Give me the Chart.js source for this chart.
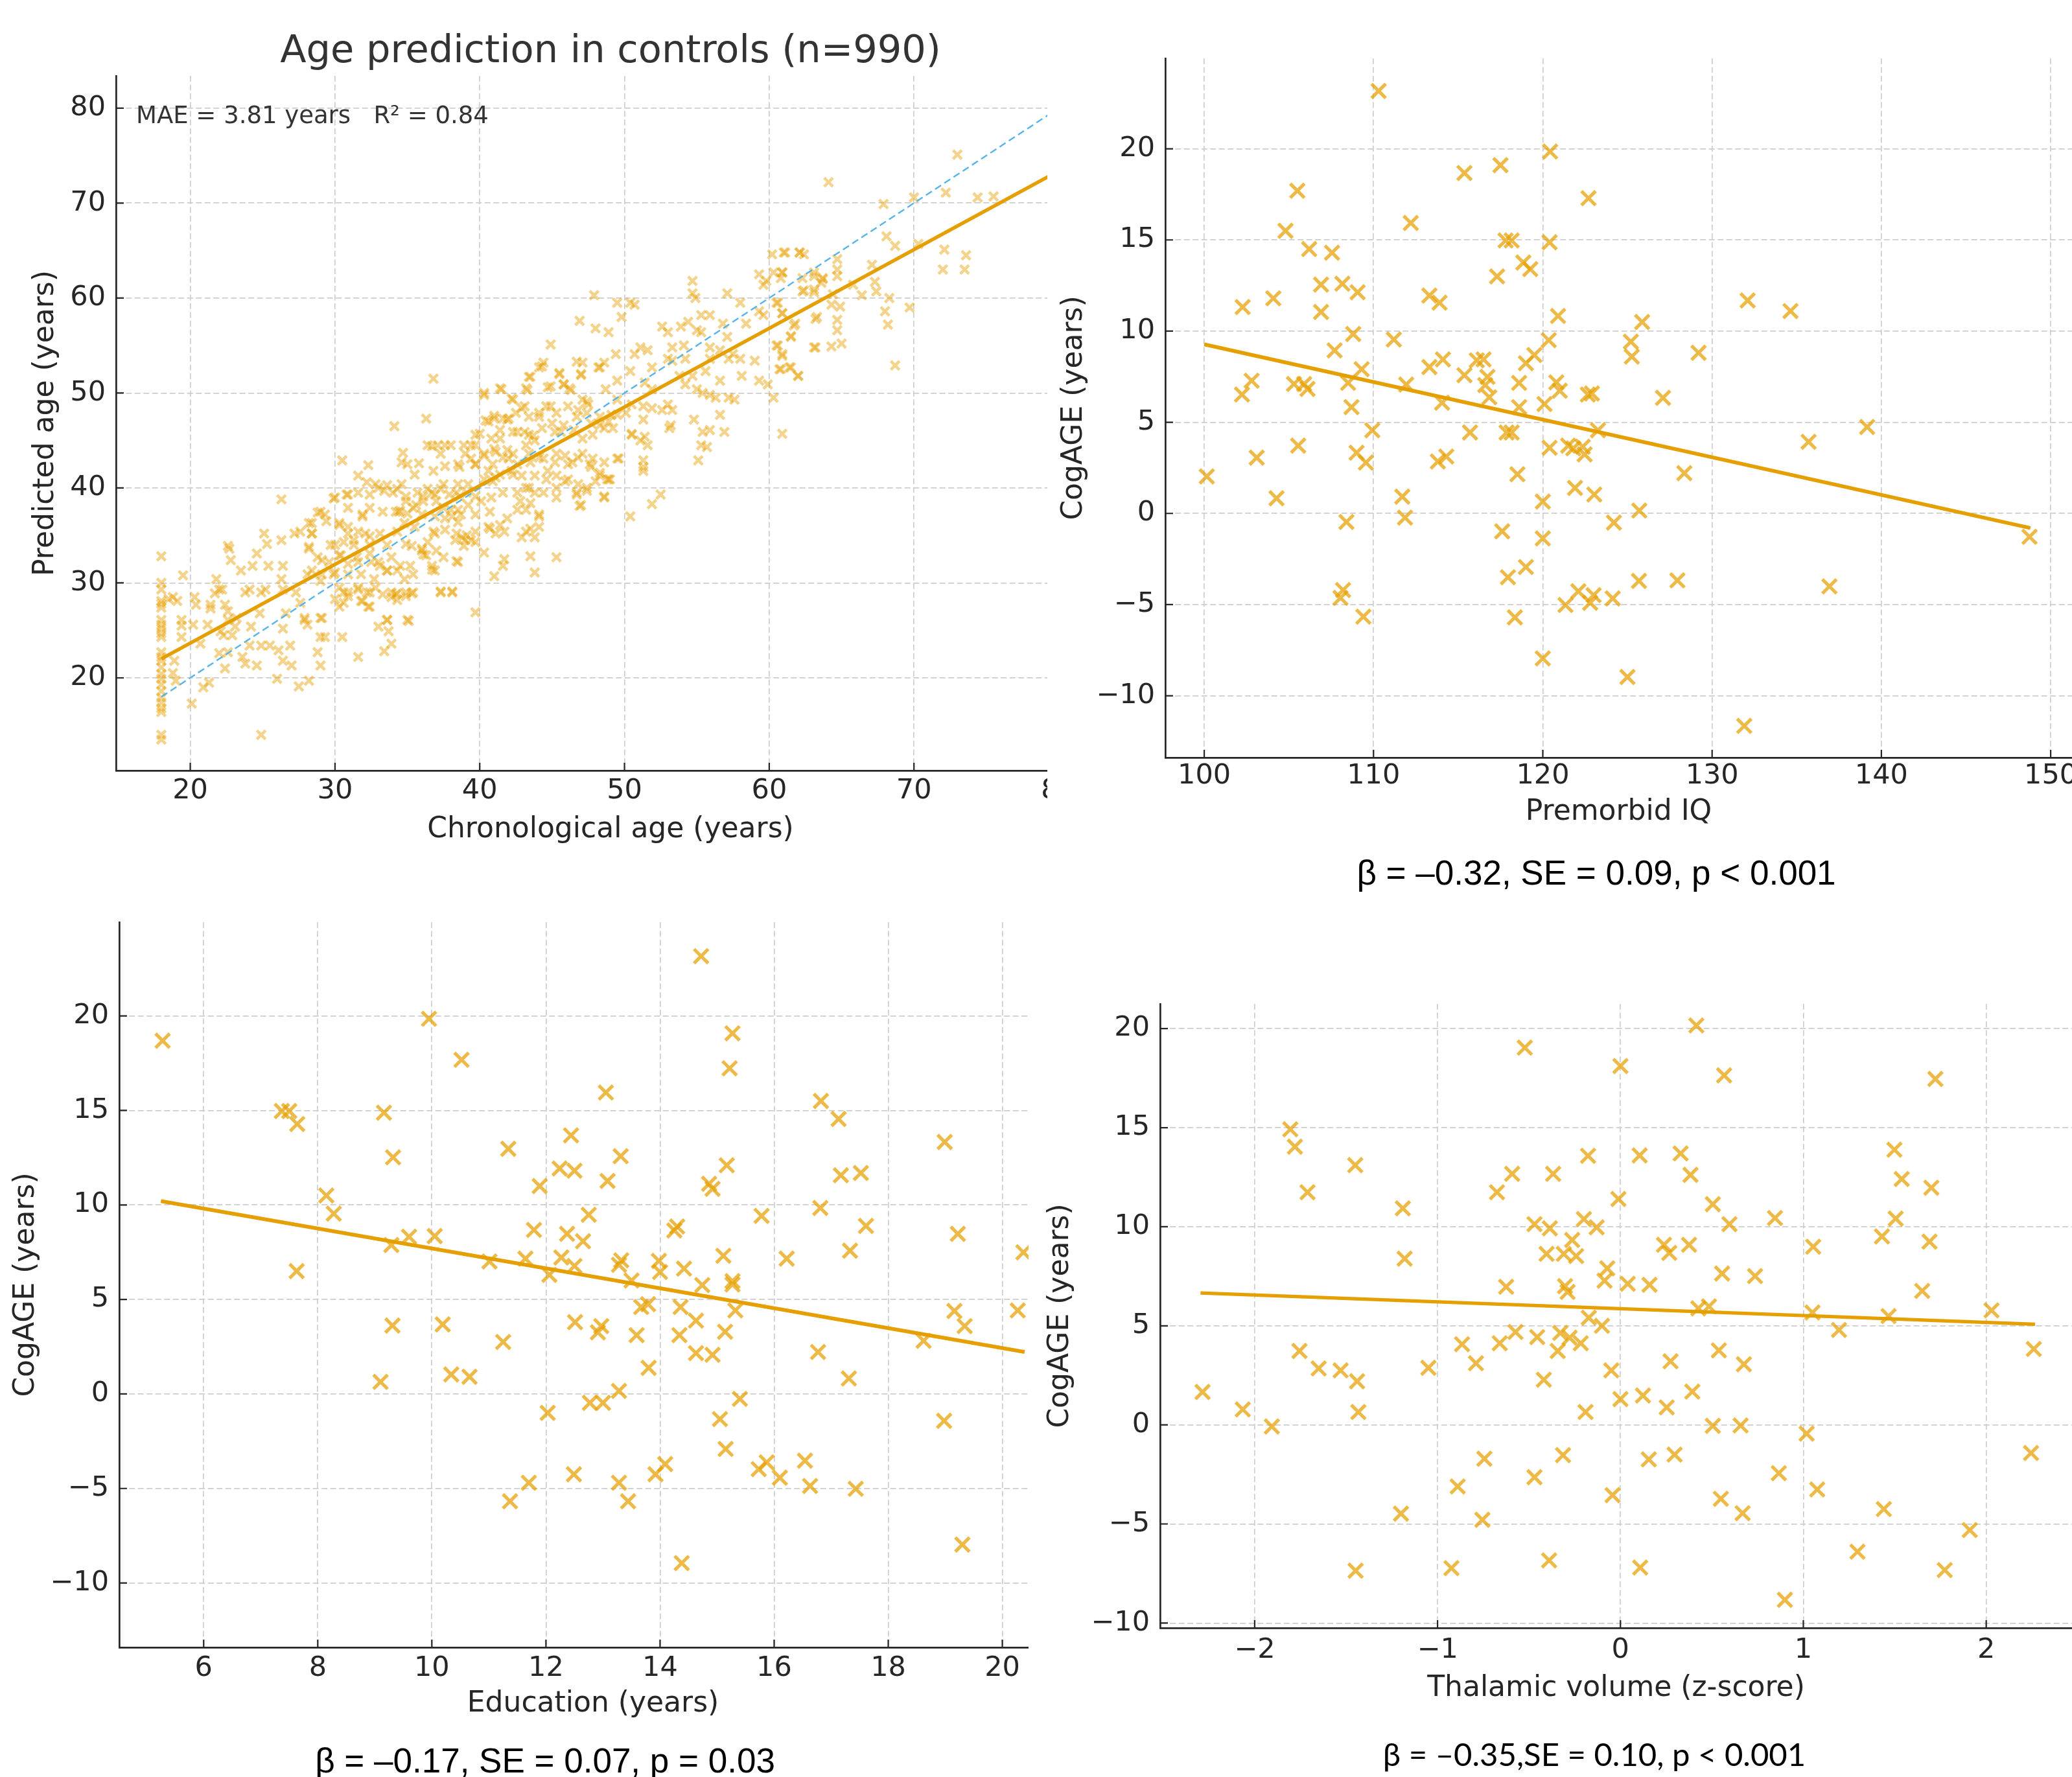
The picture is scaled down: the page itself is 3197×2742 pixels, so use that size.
<!DOCTYPE html>
<html><head><meta charset="utf-8">
<script src="https://cdn.jsdelivr.net/npm/chart.js@4.4.1/dist/chart.umd.min.js"></script>
<style>
html,body{margin:0;padding:0;background:#fff;width:3197px;height:2742px;overflow:hidden;position:relative}
.wrap{position:absolute;overflow:hidden}
canvas{position:absolute;left:0;top:0}
.txt{position:absolute;white-space:nowrap;line-height:1;transform:translate(-50%,-50%)}
</style></head><body>
<div class="wrap" style="left:0;top:0;width:1616px;height:1330px"><canvas id="c1" width="1705" height="1307"></canvas></div>
<div class="wrap" style="left:1600px;top:0;width:1597px;height:1300px"><canvas id="c2" width="1597" height="1280"></canvas></div>
<div class="wrap" style="left:0;top:1380px;width:1587px;height:1300px"><canvas id="c3" width="1646" height="1276"></canvas></div>
<div class="wrap" style="left:1600px;top:1500px;width:1597px;height:1150px"><canvas id="c4" width="1597" height="1132"></canvas></div>
<div class="txt" style="left:942px;top:75px;font-family:'DejaVu Sans';font-size:59px;color:#333">Age prediction in controls (n=990)</div>
<div class="txt" style="left:210px;top:177px;transform:translate(0,-50%);font-family:'DejaVu Sans';font-size:37px;color:#333">MAE = 3.81 years&nbsp;&nbsp;&nbsp;R² = 0.84</div>
<div class="txt" style="left:2463px;top:1346px;font-family:'Liberation Sans';font-size:53px;color:#000">β = –0.32, SE = 0.09, p &lt; 0.001</div>
<div class="txt" style="left:841px;top:2716px;font-family:'Liberation Sans';font-size:53px;color:#000">β = –0.17, SE = 0.07, p = 0.03</div>
<div class="txt" style="left:2460px;top:2706px;font-family:'Lato';font-size:49px;color:#000">β = –0.35,SE = 0.10, p &lt; 0.001</div>
<script>
// ---------------- DATA ----------------
// Panel A: chronological vs predicted age (controls) [chronological, predicted]
const ageControls = [
[18,32.8],[18,30.0],[18,29.3],[18,28.1],[18,27.8],[18,27.4],[18,26.1],[18,25.6],[18,25.2],[18,24.7],[18,24.3],[18,22.7],[18,22.2],[18,21.8],[18,21.1],[18,20.4],[18,19.9],[18,19.3],[18,18.6],[18,17.9],[18,17.4],[18,16.8],[18,16.4],[18,14.0],[18,13.5],
[19.5,30.8],[18.8,28.5],[19.1,28.1],[18.5,28.3],[20.3,28.5],[20.4,27.7],[19.4,26.1],[19.4,25.5],[20.2,25.6],[19.4,24.3],[18.9,21.8],[18.8,20.5],[19.0,19.7],[20.1,17.3],[20.7,23.6],[20.9,19.0],[21.3,19.5],[21.2,25.6],[21.4,27.7],[21.4,27.3],[21.8,30.4],[21.7,28.9],[22.0,29.3],[22.2,29.3],[22.4,27.7],[22.6,27.0],[22.6,33.9],[22.7,33.6],[22.8,32.4],[22.1,24.9],[22.3,24.5],[22.4,21.0],[22.0,22.6],[22.6,22.7],[22.9,24.5],[22.6,26.1],[23.1,25.4],[23.2,26.3],[23.5,31.3],[23.6,22.2],[23.8,21.5],[24.1,23.4],[24.2,25.4],[24.3,31.8],[24.6,33.1],[24.8,26.8],[24.9,14.0],[24.6,21.3],[24.9,23.4],[25.1,35.2],[25.3,34.1],[25.4,31.8],[25.2,29.3],[24.9,29.0],[24.1,29.3],[23.8,29.0],[25.5,23.4],[26.0,19.9],[26.3,38.8],[26.3,34.5],[26.4,31.8],[26.3,30.4],[26.4,29.3],[26.6,26.8],[26.4,25.2],[26.1,22.9],[26.4,21.8],[26.9,23.4],[27.0,21.3],[27.5,19.1],[28.2,19.7],[27.2,35.2],[27.6,35.4],[27.3,29.0],[27.6,27.9],[27.9,26.3],[28.1,25.6],[28.4,36.3],[28.4,35.2],[28.2,33.6],[28.8,37.4],[29.3,37.2],[29.1,32.4],[29.0,30.2],[29.0,26.3],[29.0,24.3],[29.3,24.3],[28.8,22.7],[29.0,21.3],[30.5,42.9],[30.0,39.0],[30.9,39.3],[31.6,41.3],[32.3,42.4],[32.2,40.6],[32.8,40.4],[33.4,39.7],[30.3,36.3],[30.9,35.9],[31.9,37.0],[31.6,35.4],[30.0,34.0],[30.6,34.3],[31.3,34.0],[32.4,34.9],[30.3,32.9],[30.9,32.0],[31.6,32.2],[32.5,32.2],[33.1,31.8],[33.6,31.3],[29.9,30.9],[30.3,29.5],[30.9,29.0],[31.6,29.5],[32.4,29.0],[33.3,28.8],[33.9,29.0],[30.0,28.3],[30.6,27.9],[31.8,28.1],[32.3,27.5],[30.5,24.3],[31.6,22.2],[33.0,25.4],[33.6,26.1],[33.7,24.9],[33.4,22.8],[33.9,23.6],
[34.1,46.5],[36.3,47.3],[36.8,51.5],[34.7,43.7],[34.6,42.7],[35.0,42.5],[35.8,42.6],[35.5,41.4],[36.4,44.5],[36.7,44.4],[37.1,44.5],[37.6,44.5],[38.0,44.5],[37.3,43.6],[36.8,41.8],[37.6,42.3],[38.5,42.5],[39.0,43.6],[39.4,44.5],[39.7,42.5],[40.0,45.7],[34.3,39.9],[34.9,39.1],[34.4,37.5],[35.0,37.3],[35.6,38.2],[36.1,39.1],[36.4,39.9],[36.7,39.5],[37.0,38.6],[37.3,39.9],[37.9,39.3],[38.0,37.7],[38.6,39.1],[39.2,38.2],[39.7,39.1],[37.6,36.8],[38.5,36.4],[38.8,34.8],[39.4,34.5],[39.7,34.3],[38.9,33.9],[38.3,34.5],[36.8,35.4],[36.4,34.3],[36.0,33.4],[35.3,33.9],[34.9,34.1],[36.7,31.4],[36.1,33.0],[37.3,29.1],[38.1,29.1],[38.4,32.3],[35.3,28.9],[34.9,28.6],[34.3,28.9],[34.3,28.2],[35.0,26.1],[39.7,26.9],
[40.3,50.0],[41.4,50.5],[40.6,47.0],[41.0,47.3],[41.6,47.3],[42.0,47.3],[42.3,49.3],[42.3,45.9],[41.4,45.2],[41.0,44.1],[40.3,43.6],[40.9,42.5],[41.6,43.2],[42.3,43.6],[41.4,41.4],[40.9,40.7],[40.3,40.9],[42.3,41.4],[42.9,48.4],[43.2,50.5],[43.4,51.7],[44.1,52.7],[44.4,53.2],[44.9,55.1],[43.1,45.9],[43.2,44.5],[43.7,45.5],[44.1,47.5],[44.6,48.6],[44.9,50.7],[45.5,52.1],[45.8,50.9],[46.2,50.5],[46.7,53.3],[47.1,53.2],[47.0,51.9],[48.2,52.7],[48.6,53.2],[48.0,56.8],[48.9,56.4],[49.4,54.1],[43.5,42.7],[44.1,43.2],[44.7,41.8],[45.3,43.6],[46.1,42.5],[46.8,43.2],[47.6,42.5],[48.3,41.6],[48.8,40.9],[45.2,45.9],[45.8,46.6],[46.8,48.2],[47.4,49.1],[47.7,46.8],[48.3,46.6],[49.1,47.7],[49.5,49.3],[43.2,40.0],[43.8,39.5],[42.8,38.6],[43.2,37.7],[44.1,37.0],[43.5,35.7],[42.9,34.8],[43.8,34.8],[45.3,40.0],[45.9,40.7],[46.7,39.3],[47.0,38.2],[47.4,40.0],[48.0,40.7],[41.7,35.4],[41.1,35.2],[40.7,35.7],[40.3,33.2],[41.7,32.5],[41.6,31.8],[41.0,30.7],[43.5,32.8],[43.8,31.1],[45.3,32.7],[48.6,39.1],
[50.4,59.5],[50.7,59.3],[49.8,58.0],[52.6,57.0],[53.0,56.4],[53.9,57.0],[54.4,57.5],[54.7,61.8],[54.7,60.5],[54.9,60.0],[55.3,58.2],[55.9,58.2],[55.0,56.6],[55.3,56.4],[57.1,60.5],[56.8,57.3],[58.0,59.5],[58.4,57.3],[59.3,58.6],[59.6,58.2],[59.3,62.5],[59.8,61.8],[59.6,61.4],[60.2,64.6],[61.1,64.8],[62.1,64.8],[62.4,64.6],[60.3,62.7],[60.9,62.7],[60.8,62.1],[60.5,59.5],[60.9,58.4],[62.3,62.1],[63.1,62.3],[63.6,61.6],[63.7,62.1],[62.3,60.7],[63.1,60.9],[63.3,58.0],[61.8,57.3],[61.5,55.9],[63.2,54.8],[60.5,55.0],[60.9,53.9],[60.8,52.5],[61.5,52.7],[62.0,51.8],[59.9,50.9],[60.3,49.5],[60.9,45.7],[51.9,52.7],[51.6,54.5],[51.1,54.8],[50.7,54.1],[51.4,51.1],[50.4,52.3],[53.0,53.6],[53.3,53.4],[53.3,54.8],[54.1,55.0],[54.2,53.6],[53.8,51.8],[54.2,50.9],[54.7,51.8],[55.0,50.4],[55.6,52.3],[55.9,53.6],[55.9,54.8],[56.6,54.5],[57.1,55.9],[57.2,53.6],[57.5,54.1],[58.0,53.6],[58.1,51.8],[59.0,53.4],[59.3,51.3],[56.6,51.3],[56.3,49.5],[55.9,49.8],[55.4,50.0],[57.2,49.5],[57.6,49.3],[53.0,48.8],[53.3,48.2],[52.6,48.2],[51.9,48.4],[51.3,48.6],[51.9,50.4],[50.5,48.8],[50.5,45.7],[51.6,44.5],[51.4,45.4],[51.3,42.9],[51.3,41.8],[49.6,43.1],[48.9,40.9],[53.2,46.6],[53.1,46.3],[54.8,47.2],[56.6,47.7],[55.4,45.9],[55.9,46.1],[56.9,45.9],[55.3,44.5],[55.7,44.3],[55.1,42.9],[52.5,39.3],[51.9,38.3],[50.4,37.0],
[64.1,72.2],[64.7,64.1],[64.7,63.0],[64.7,62.3],[64.4,60.4],[64.3,59.3],[64.9,59.1],[64.7,57.7],[64.7,56.6],[64.3,54.9],[65.0,55.2],[65.8,61.4],[66.4,60.3],[67.1,63.5],[67.3,61.7],[67.4,60.7],[67.9,69.9],[68.1,66.5],[68.7,65.5],[68.3,60.0],[68.0,58.6],[68.2,57.2],[68.7,52.9],[69.7,59.0],[70.0,70.6],[70.3,65.7],[72.2,71.1],[73.0,75.1],[72.1,65.1],[72.0,63.0],[73.6,64.5],[73.5,63.0],[74.4,70.6],[75.5,70.7],
[61.0,64.8],[62.1,64.8],[60.9,62.7],[63.1,62.7],[63.7,62.0],[62.4,60.8],[63.1,60.6],[60.6,59.5],[60.9,58.4],[61.7,57.1],[61.5,56.0],[63.2,57.8],[63.1,54.8],[60.6,55.0],[60.9,54.1],[61.4,52.7],[62.0,51.8],[60.7,52.5],[47.9,60.3],[46.9,57.6],[49.5,59.5],
[40.3,49.8],[41.5,50.4],[42.2,49.4],[43.3,50.3],[43.5,51.7],[44.3,52.8],[44.7,50.6],[45.5,52.0],[45.8,50.9],[46.3,50.3],[47.0,52.0],[47.1,49.3],[47.5,48.8],[48.3,52.7],[48.7,50.4],[49.5,51.3],[40.4,47.1],[41.0,47.6],[41.9,47.2],[42.5,47.9],[43.1,48.6],[43.4,47.5],[44.1,47.9],[44.9,48.6],[45.3,47.9],[46.1,48.6],[46.7,47.5],[47.4,47.9],[48.3,47.5],[48.9,47.0],[49.5,47.7],[50.1,47.9],[50.5,45.6],[51.1,45.0],[51.3,47.2],[39.7,45.6],[40.8,45.2],[41.4,46.1],[42.6,45.9],[43.4,45.6],[43.8,45.0],[44.3,46.3],[45.0,46.8],[45.6,45.9],[46.5,46.1],[47.1,45.2],[47.8,45.6],[48.6,46.3],[49.2,46.3],[38.9,44.5],[39.7,44.5],[39.4,43.1],[40.3,43.4],[41.1,43.8],[41.9,44.0],[42.0,43.1],[42.6,42.5],[43.4,43.6],[44.4,43.1],[45.2,42.7],[45.9,43.4],[46.4,42.7],[47.1,43.6],[47.8,43.1],[48.6,42.7],[47.7,42.2],[48.3,41.3],[49.0,40.9],[49.5,43.1],[51.3,42.2],[38.6,42.2],[39.7,42.5],[40.6,41.8],[41.1,41.1],[42.2,41.8],[42.9,41.3],[43.8,41.3],[44.6,40.9],[45.3,41.3],[46.1,40.9],[46.8,40.4],[47.4,39.7],[38.5,40.4],[39.1,39.5],[40.1,38.6],[40.8,39.0],[41.6,39.5],[42.6,39.5],[43.4,40.0],[44.4,39.5],[45.3,39.0],[46.7,39.5],[48.6,39.0],[46.9,38.1],[38.5,37.7],[39.7,37.2],[40.7,37.5],[41.9,36.8],[42.6,37.7],[43.5,38.4],[44.1,37.2],[40.6,35.9],[41.4,36.1],[43.2,35.4],[44.1,35.9],[39.1,35.0],[39.7,35.4],
[29.9,38.9],[30.8,39.3],[31.6,39.5],[32.4,39.3],[33.0,40.0],[33.6,40.3],[34.0,39.5],[34.6,40.4],[34.9,38.6],[35.7,39.5],[36.1,38.6],[36.9,39.3],[37.5,40.4],[38.4,39.5],[39.2,40.4],[29.0,37.5],[29.4,36.5],[30.9,37.9],[31.9,37.2],[32.4,37.9],[33.3,37.5],[34.2,37.5],[34.5,37.6],[35.4,37.9],[36.0,37.2],[36.9,37.0],[37.5,37.9],[38.1,37.0],[38.7,37.2],[28.2,36.3],[28.4,35.2],[29.7,34.0],[30.3,36.1],[30.9,35.2],[31.3,34.5],[32.1,35.2],[32.4,34.0],[33.1,35.2],[33.6,34.0],[34.3,35.4],[34.8,36.3],[35.5,35.9],[36.9,35.2],[37.6,35.6],[38.4,35.2],[39.0,34.5],[28.2,33.8],[28.8,32.7],[29.6,32.2],[30.4,32.9],[31.5,32.7],[32.4,33.1],[33.0,32.2],[33.9,32.7],[34.5,31.8],[35.2,31.8],[36.0,33.6],[36.3,32.9],[37.0,33.4],[37.5,32.7],[36.7,31.8],[38.5,32.2],[36.9,31.3],[28.4,31.3],[29.1,30.9],[30.0,31.1],[30.9,30.9],[31.8,30.9],[32.7,30.4],[33.6,31.3],[34.3,31.3],[34.8,30.4],[35.4,30.9],[30.6,29.0],[30.9,28.6],[31.6,29.3],[32.2,29.0],[32.8,29.5],[34.2,28.8],[34.9,29.0],[35.4,29.0],[33.9,28.5],[30.3,27.5],[31.9,28.1],[32.4,27.5],[37.3,29.0],[38.1,29.0],[29.1,26.3],[33.6,26.1],[35.1,26.0],[28.1,30.9],[27.9,26.1]
];
const ageFitLine = [[18,22.0],[84,76.7]];
const identityLine = [[18,18],[84,84]];

// Panel B: Premorbid IQ vs CogAGE
const iqCogage = [
[100.15,2.03],[102.27,11.32],[102.23,6.52],[102.8,7.28],[103.1,3.06],[104.08,11.8],[104.27,0.83],[104.8,15.5],[105.5,17.7],[105.3,7.1],[105.55,3.72],[105.9,7.1],[106.1,6.83],[106.2,14.5],[106.9,12.55],[106.9,11.05],[107.55,14.3],[107.7,8.94],[108.16,12.6],[108.05,-4.63],[108.2,-4.2],[108.4,-0.47],[108.5,7.16],[108.7,5.83],[108.8,9.84],[109.06,12.13],[109.0,3.33],[109.3,7.91],[109.4,-5.66],[109.55,2.79],[109.93,4.56],[110.3,23.17],[111.2,9.54],[111.7,0.92],[111.86,-0.23],[111.93,7.07],[112.2,15.93],[113.3,11.95],[113.3,8.03],[113.9,11.56],[113.8,2.85],[114.05,6.07],[114.1,8.45],[114.3,3.12],[115.37,18.67],[115.37,7.58],[115.7,4.44],[116.1,8.4],[116.5,8.45],[116.6,7.04],[116.73,7.49],[116.84,6.37],[117.3,13.0],[117.5,19.1],[117.6,-0.98],[117.94,-3.5],[117.8,14.97],[118.16,14.97],[117.86,4.44],[118.16,4.44],[118.35,-5.7],[118.5,2.15],[118.6,7.16],[118.6,5.83],[118.85,13.76],[119.0,8.24],[119.26,13.4],[119.0,-2.94],[119.5,8.69],[120.1,6.0],[120.0,0.65],[120.0,-1.37],[120.0,-7.95],[120.35,9.5],[120.4,3.6],[120.4,14.87],[120.43,19.85],[120.8,7.19],[120.9,10.83],[121.0,6.73],[121.34,-5.02],[121.5,3.72],[121.8,3.57],[121.9,1.4],[122.1,-4.27],[122.36,3.66],[122.47,3.24],[122.66,6.52],[122.9,6.58],[122.7,17.29],[122.8,-4.9],[123.0,-4.48],[123.04,1.04],[123.26,4.56],[124.13,-4.66],[124.2,-0.5],[125.0,-8.97],[125.2,9.42],[125.26,8.6],[125.68,-3.7],[125.7,0.16],[125.87,10.5],[127.1,6.34],[127.95,-3.67],[128.36,2.21],[129.2,8.81],[131.9,-11.65],[132.1,11.68],[134.63,11.1],[135.7,3.93],[136.93,-4.0],[139.16,4.74],[148.75,-1.28]
];
const iqFitLine = [[100.0,9.27],[148.8,-0.80]];

// Panel C: Education vs CogAGE
const eduCogage = [
[5.28,18.69],[7.37,14.97],[7.5,14.97],[7.64,14.28],[7.63,6.5],[8.15,10.5],[8.28,9.54],[9.16,14.88],[9.32,12.52],[9.29,7.88],[9.6,8.32],[9.31,3.62],[9.1,0.64],[9.95,19.85],[10.05,8.35],[10.19,3.68],[10.34,1.03],[10.66,0.91],[10.52,17.68],[11.01,7.01],[11.25,2.75],[11.34,12.97],[11.37,-5.68],[11.7,-4.7],[11.64,7.16],[11.79,8.68],[11.89,11.0],[12.03,-1.0],[12.06,6.3],[12.24,11.93],[12.27,7.22],[12.37,8.47],[12.44,13.68],[12.5,11.81],[12.5,6.77],[12.51,3.8],[12.49,-4.25],[12.65,8.08],[12.75,9.48],[12.77,-0.47],[12.91,3.26],[12.97,3.59],[13.0,-0.47],[13.05,15.95],[13.08,11.27],[13.28,0.16],[13.28,-4.7],[13.31,12.58],[13.28,6.83],[13.32,7.07],[13.44,-5.68],[13.5,6.0],[13.59,3.11],[13.67,4.6],[13.79,4.75],[13.8,1.38],[13.92,-4.25],[14.09,-3.71],[13.98,7.04],[14.0,6.45],[14.25,8.65],[14.3,8.86],[14.34,3.11],[14.36,4.6],[14.38,-8.95],[14.42,6.63],[14.63,3.88],[14.63,2.16],[14.74,5.76],[14.72,23.16],[14.86,11.12],[14.92,10.85],[14.92,2.07],[15.05,-1.33],[15.11,7.31],[15.14,3.29],[15.15,-2.91],[15.17,12.1],[15.22,17.23],[15.27,19.08],[15.27,5.97],[15.27,5.79],[15.32,4.42],[15.4,-0.26],[15.73,-3.98],[15.87,-3.62],[15.78,9.42],[16.1,-4.43],[16.22,7.16],[16.54,-3.53],[16.63,-4.87],[16.77,2.22],[16.81,9.84],[16.82,15.5],[17.13,14.55],[17.17,11.57],[17.33,7.58],[17.31,0.82],[17.43,-5.02],[17.52,11.69],[17.61,8.89],[18.62,2.81],[18.98,-1.42],[18.99,13.33],[19.16,4.39],[19.22,8.47],[19.34,3.59],[19.3,-7.97],[20.27,4.42],[20.37,7.49]
];
const eduFitLine = [[5.25,10.2],[20.39,2.22]];

// Panel D: Thalamic volume vs CogAGE
const thalCogage = [
[-2.285,1.66],[-2.065,0.78],[-1.906,-0.08],[-1.805,14.92],[-1.78,14.04],[-1.755,3.73],[-1.711,11.74],[-1.65,2.85],[-1.53,2.75],[-1.45,13.11],[-1.44,2.2],[-1.433,0.65],[-1.448,-7.36],[-1.2,-4.48],[-1.19,10.93],[-1.18,8.39],[-1.05,2.88],[-0.924,-7.23],[-0.89,-3.11],[-0.866,4.07],[-0.79,3.11],[-0.755,-4.79],[-0.744,-1.71],[-0.675,11.74],[-0.66,4.12],[-0.625,6.97],[-0.592,12.67],[-0.574,4.69],[-0.523,19.04],[-0.47,-2.64],[-0.47,10.13],[-0.455,4.43],[-0.419,2.28],[-0.404,8.63],[-0.386,9.92],[-0.39,-6.84],[-0.368,12.67],[-0.343,3.73],[-0.329,4.64],[-0.314,-1.53],[-0.31,8.63],[-0.303,7.0],[-0.289,6.71],[-0.278,4.4],[-0.264,9.33],[-0.242,8.52],[-0.217,4.12],[-0.2,10.39],[-0.191,0.65],[-0.177,13.58],[-0.173,5.41],[-0.13,9.97],[-0.101,5.0],[-0.087,7.28],[-0.072,7.9],[-0.05,2.75],[-0.043,-3.55],[-0.011,11.4],[0.0,18.11],[0.0,1.3],[0.04,7.12],[0.105,13.6],[0.108,-7.2],[0.123,1.48],[0.155,-1.74],[0.159,7.07],[0.238,9.09],[0.253,0.88],[0.267,8.68],[0.274,3.21],[0.296,-1.5],[0.329,13.7],[0.375,9.09],[0.383,12.62],[0.393,1.68],[0.415,20.16],[0.426,5.88],[0.484,5.98],[0.505,11.14],[0.505,-0.05],[0.538,3.76],[0.549,-3.73],[0.556,7.64],[0.567,17.64],[0.596,10.13],[0.657,-0.03],[0.668,-4.46],[0.675,3.06],[0.736,7.51],[0.845,10.44],[0.866,-2.44],[0.899,-8.83],[1.018,-0.44],[1.054,8.99],[1.05,5.67],[1.076,-3.26],[1.195,4.79],[1.296,-6.4],[1.43,9.51],[1.44,-4.25],[1.466,5.49],[1.498,13.89],[1.505,10.41],[1.538,12.41],[1.65,6.76],[1.69,9.25],[1.7,11.97],[1.722,17.46],[1.773,-7.33],[1.91,-5.31],[2.029,5.78],[2.245,-1.42],[2.26,3.83]
];
const thalFitLine = [[-2.296,6.66],[2.267,5.08]];

// Tick values
const ageXTicks = [20,30,40,50,60,70,80];
const ageYTicks = [20,30,40,50,60,70,80];
const iqXTicks = [100,110,120,130,140,150];
const cogYTicks = [-10,-5,0,5,10,15,20];
const eduXTicks = [6,8,10,12,14,16,18,20];
const thalXTicks = [-2,-1,0,1,2];

// ---------------- RENDERING ----------------
Chart.defaults.font.family = "'DejaVu Sans'";
const INK = '#262626';
const ORANGE = '#E69F00';
const fmt = v => (v < 0 ? '\u2212' + Math.abs(v) : String(v));
const toXY = arr => arr.map(([x, y]) => ({x, y}));

const inwardTicks = {
  id: 'inwardTicks',
  afterDatasetsDraw(chart) {
    const {ctx, chartArea: a, scales: {x, y}} = chart;
    ctx.save();
    ctx.strokeStyle = INK; ctx.lineWidth = 2.2;
    ctx.beginPath();
    x.ticks.forEach(t => { const p = x.getPixelForValue(t.value); ctx.moveTo(p, a.bottom); ctx.lineTo(p, a.bottom - 12); });
    y.ticks.forEach(t => { const p = y.getPixelForValue(t.value); ctx.moveTo(a.left, p); ctx.lineTo(a.left + 12, p); });
    ctx.stroke();
    ctx.restore();
  }
};

function axis(o, isX) {
  const ticks = isX ? o.xTicks : o.yTicks;
  return {
    type: 'linear',
    position: isX ? 'bottom' : 'left',
    min: isX ? o.xMin : o.yMin,
    max: isX ? o.xMax : o.yMax,
    afterBuildTicks: s => { s.ticks = ticks.map(v => ({value: v})); },
    afterFit: s => {
      if (isX) { s.height = o.xH; } else { s.width = o.yW; }
      s.paddingLeft = 0; s.paddingRight = 0; s.paddingTop = 0; s.paddingBottom = 0;
    },
    ticks: {callback: v => fmt(v), font: {size: 43}, color: INK, padding: isX ? o.xPad : 16, maxRotation: 0, autoSkip: false},
    grid: {color: '#cdcdcd', lineWidth: 1.7, drawTicks: false, tickLength: 0},
    border: {display: true, color: INK, width: 2.7, dash: [9, 4.5]},
    title: {display: true, text: isX ? o.xLabel : o.yLabel, font: {size: 44}, color: INK,
            padding: isX ? {top: 0, bottom: 0} : {top: o.yTitlePad, bottom: 0}}
  };
}

function panel(id, o) {
  const datasets = [];
  if (o.lines) o.lines.forEach(l => datasets.push(l));
  datasets.push({
    data: toXY(o.points), pointStyle: 'crossRot', pointRadius: o.r, pointBorderWidth: o.bw,
    pointBorderColor: o.ptColor, pointBackgroundColor: 'rgba(0,0,0,0)', showLine: false, clip: 0
  });
  new Chart(document.getElementById(id), {
    type: 'scatter',
    data: {datasets},
    options: {
      responsive: false, devicePixelRatio: 1, animation: false, events: [],
      layout: {autoPadding: false, padding: {top: o.padTop, left: 0, right: 0, bottom: 0}},
      plugins: {legend: {display: false}, tooltip: {enabled: false}, title: {display: false}},
      scales: {x: axis(o, true), y: axis(o, false)}
    },
    plugins: [inwardTicks]
  });
}

const fitLine = (pts, w, color, dash) => ({
  data: toXY(pts), showLine: true, pointRadius: 0, borderColor: color, borderWidth: w,
  borderDash: dash || [], fill: false, clip: 0
});

panel('c1', {
  points: ageControls, r: 9.5, bw: 4.6, ptColor: 'rgba(230,159,0,0.45)',
  lines: [fitLine(ageFitLine, 5.5, ORANGE), fitLine(identityLine, 2.4, '#56B4E9', [11, 6])],
  xMin: 14.87, xMax: 83.2, yMin: 10.24, yMax: 83.4,
  xTicks: ageXTicks, yTicks: ageYTicks,
  xLabel: 'Chronological age (years)', yLabel: 'Predicted age (years)',
  padTop: 117, yW: 179, xH: 118, xPad: 6, yTitlePad: 44.6
});

panel('c2', {
  points: iqCogage, r: 15.5, bw: 5.2, ptColor: 'rgba(230,159,0,0.72)',
  lines: [fitLine(iqFitLine, 5.8, ORANGE)],
  xMin: 97.7, xMax: 151.26, yMin: -13.39, yMax: 24.96,
  xTicks: iqXTicks, yTicks: cogYTicks,
  xLabel: 'Premorbid IQ', yLabel: 'CogAGE (years)',
  padTop: 90, yW: 198, xH: 111, xPad: 3.5, yTitlePad: 31.6
});

panel('c3', {
  points: eduCogage, r: 15.5, bw: 5.2, ptColor: 'rgba(230,159,0,0.72)',
  lines: [fitLine(eduFitLine, 5.8, ORANGE)],
  xMin: 4.52, xMax: 21.13, yMin: -13.41, yMax: 24.96,
  xTicks: eduXTicks, yTicks: cogYTicks,
  xLabel: 'Education (years)', yLabel: 'CogAGE (years)',
  padTop: 43, yW: 184, xH: 114, xPad: 6.8, yTitlePad: 14.6
});

panel('c4', {
  points: thalCogage, r: 15.5, bw: 5.2, ptColor: 'rgba(230,159,0,0.72)',
  lines: [fitLine(thalFitLine, 5.2, ORANGE)],
  xMin: -2.517, xMax: 2.469, yMin: -10.25, yMax: 21.25,
  xTicks: thalXTicks, yTicks: cogYTicks,
  xLabel: 'Thalamic volume (z-score)', yLabel: 'CogAGE (years)',
  padTop: 49, yW: 190, xH: 120, xPad: 9, yTitlePad: 10.6
});
</script>
</body></html>
